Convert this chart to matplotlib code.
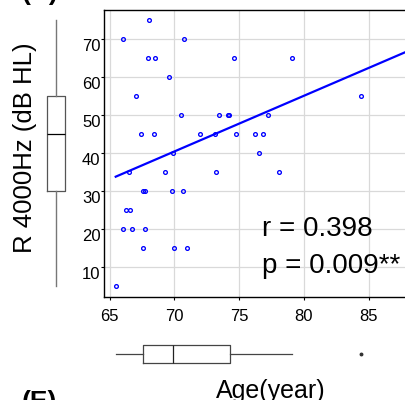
import matplotlib
matplotlib.use('Agg')
import matplotlib.pyplot as plt
import numpy as np

# ---- data ----
age = [68.04, 66.06, 70.73, 67.94, 68.5, 74.63, 79.12, 69.58, 67.04, 84.4,
       70.55, 73.42, 74.17, 74.25, 77.25, 67.45, 68.42, 72.01, 73.14, 74.73,
       76.25, 76.83, 76.53, 69.9, 66.5, 69.25, 73.25, 78.06, 67.55, 67.75,
       69.83, 70.65, 66.25, 66.55, 66.06, 66.75, 67.75, 67.55, 69.96, 70.96,
       65.48]
hearing = [75, 70, 70, 65, 65, 65, 65, 60, 55, 55,
           50, 50, 50, 50, 50, 45, 45, 45, 45, 45,
           45, 45, 40, 40, 35, 35, 35, 35, 30, 30,
           30, 30, 25, 25, 20, 20, 20, 15, 15, 15,
           5]
fit_slope = 1.465
fit_intercept = -62.16
hearing_box = dict(whislo=5, q1=30, med=45, q3=55, whishi=75, fliers=[])
age_box = dict(whislo=65.5, q1=67.55, med=69.9, q3=74.27, whishi=79.1, fliers=[84.4])
x_ticks = [65, 70, 75, 80, 85]
y_ticks = [10, 20, 30, 40, 50, 60, 70]
r_text = "r = 0.398"
p_text = "p = 0.009**"
y_label = "R 4000Hz (dB HL)"
x_label = "Age(year)"
panel_labels = ["(D)", "(E)"]

plt.rcParams['font.family'] = ['Liberation Sans', 'DejaVu Sans']

W, H = 405, 400
fig = plt.figure(figsize=(W / 100, H / 100), dpi=100)


def box(l, t, r, b):
    return [l / W, 1 - b / H, (r - l) / W, (b - t) / H]


xmin, xmax = 64.575, 89.0
px_per_x = 12.95
ymin, ymax = 2.105, 77.63
ax_right = 104 + (xmax - xmin) * px_per_x

ax = fig.add_axes(box(104, 10, ax_right, 297))
ax.set_xlim(xmin, xmax)
ax.set_ylim(ymin, ymax)
ax.set_xticks(x_ticks)
ax.set_xticklabels([str(v) for v in x_ticks], fontsize=12)
ax.set_yticks(y_ticks)
ax.set_yticklabels([str(v) for v in y_ticks], fontsize=12, va='top')
ax.tick_params(axis='x', length=2.2, pad=6.5, width=0.8)
ax.tick_params(axis='y', length=2.0, pad=0.5, width=0.8)
ax.grid(True, color='#d9d9d9', lw=0.9)
ax.set_axisbelow(True)
for s in ['left', 'bottom', 'top']:
    ax.spines[s].set_linewidth(1.0)
    ax.spines[s].set_color('black')
ax.spines['right'].set_visible(False)

ax.plot(age, hearing, 'o', ms=2.7, mfc='none', mec='#0000ff', mew=0.95, zorder=3)
xs = np.array([min(age), xmax])
ax.plot(xs, fit_intercept + fit_slope * xs, color='#0000ff', lw=1.6, zorder=4)

# left boxplot
axl = fig.add_axes(box(40, 10, 72, 297))
axl.set_ylim(ymin, ymax)
axl.set_xlim(-1, 1)
axl.bxp([hearing_box], positions=[0], widths=[1.125], showfliers=False, showcaps=False,
        boxprops=dict(color='#555555', lw=0.9),
        medianprops=dict(color='black', lw=0.9),
        whiskerprops=dict(color='#777777', lw=1.0))
axl.axis('off')

# bottom boxplot
axb = fig.add_axes(box(104, 335, ax_right, 373))
axb.set_xlim(xmin, xmax)
axb.set_ylim(-1, 1)
axb.bxp([age_box], positions=[0], widths=[0.95], showcaps=False, orientation='horizontal',
        boxprops=dict(color='#444444', lw=0.9),
        medianprops=dict(color='#222222', lw=0.9),
        whiskerprops=dict(color='#444444', lw=0.9),
        flierprops=dict(marker='o', ms=1.8, mfc='#333333', mec='#333333'))
axb.axis('off')

fig.text(262 / W, 1 - 236 / H, r_text, fontsize=20, ha='left', va='baseline')
fig.text(262 / W, 1 - 273 / H, p_text, fontsize=20, ha='left', va='baseline')
fig.text(25.5 / W, 1 - 148 / H, y_label, fontsize=18.5, rotation=90, ha='center', va='center')
fig.text(271 / W, 1 - 398 / H, x_label, fontsize=18, ha='center', va='baseline')
fig.text(22 / W, 1 - 0 / H, panel_labels[0], fontsize=19, fontweight='bold', ha='left', va='baseline')
fig.text(22 / W, 1 - 409 / H, panel_labels[1], fontsize=19, fontweight='bold', ha='left', va='baseline')

fig.savefig('out.png', dpi=100)
